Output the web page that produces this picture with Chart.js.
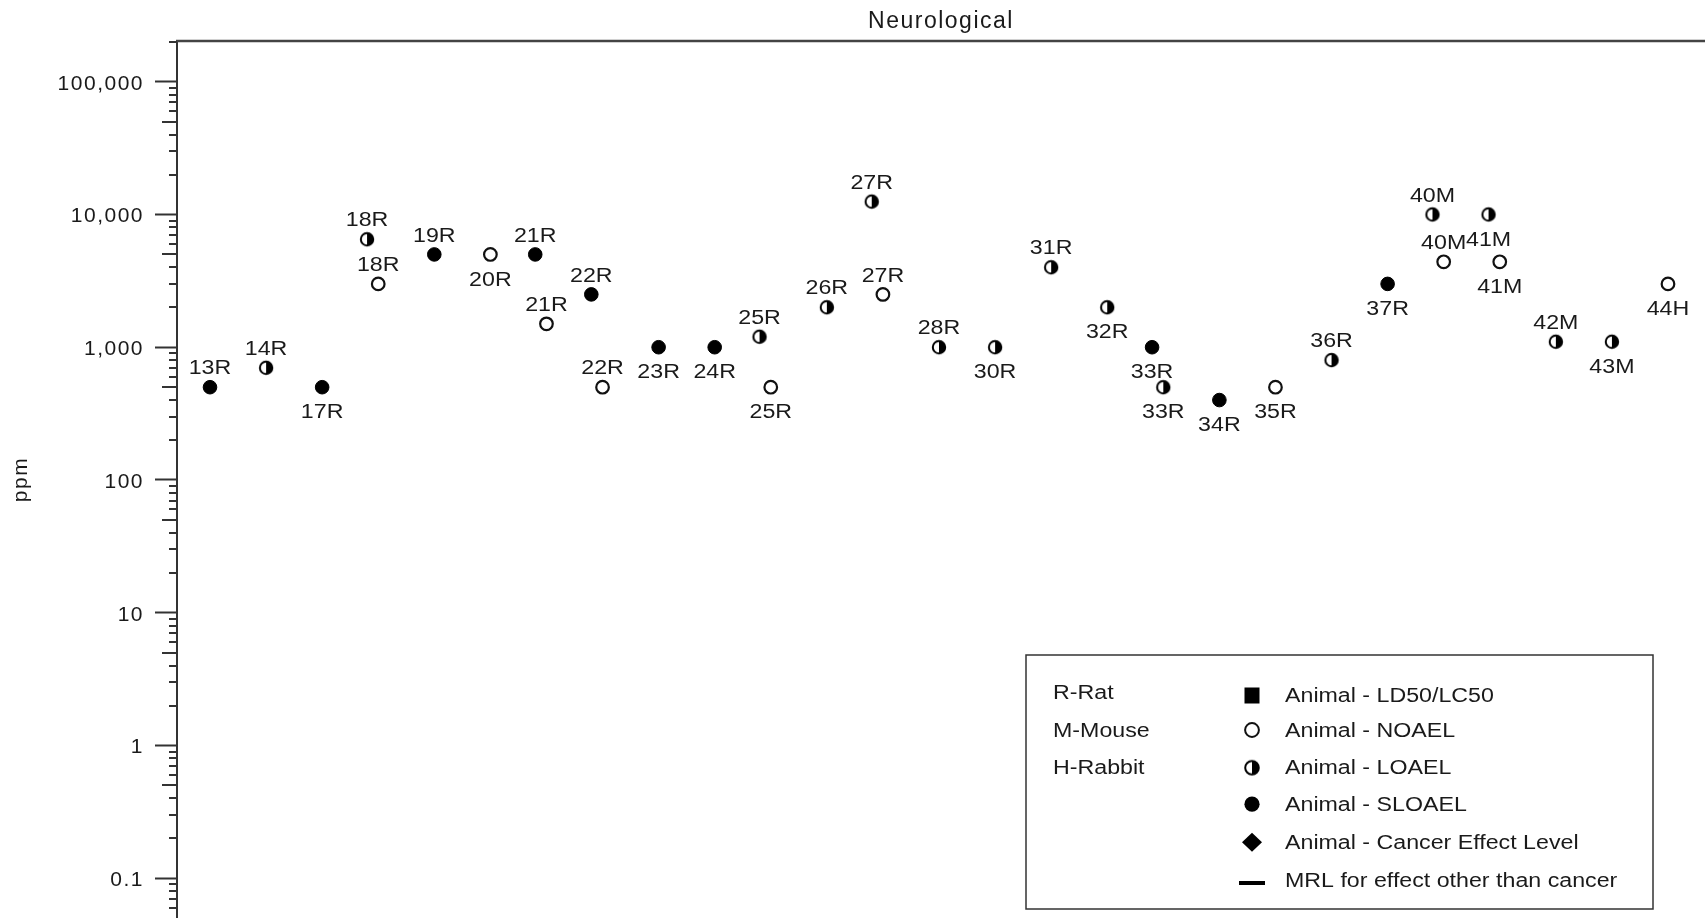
<!DOCTYPE html>
<html>
<head>
<meta charset="utf-8">
<script src="https://cdn.jsdelivr.net/npm/chart.js@4.4.1/dist/chart.umd.min.js"></script>
<style>
html, body { margin: 0; padding: 0; background: #ffffff; overflow: hidden; }
#wrap { width: 1705px; height: 918px; position: relative; }
</style>
</head>
<body>
<div id="wrap"><canvas id="c" width="1705" height="918"></canvas></div>
<script>
// ---------------- DATA ----------------
const chartTitle = 'Neurological';
const yAxisTitle = 'ppm';

const studyLabels = ['13R','14R','17R','18R','18R','19R','20R','21R','21R','22R','22R','23R','24R','25R','25R','26R','27R','27R','28R','30R','31R','32R','33R','33R','34R','35R','36R','37R','40M','40M','41M','41M','42M','43M','44H'];
const ppmValues   = [500, 700, 500, 6500, 3000, 5000, 5000, 5000, 1500, 2500, 500, 1000, 1000, 1200, 500, 2000, 12500, 2500, 1000, 1000, 4000, 2000, 1000, 500, 400, 500, 800, 3000, 10000, 4400, 10000, 4400, 1100, 1100, 3000];
const effectTypes = ['SLOAEL','LOAEL','SLOAEL','LOAEL','NOAEL','SLOAEL','NOAEL','SLOAEL','NOAEL','SLOAEL','NOAEL','SLOAEL','SLOAEL','LOAEL','NOAEL','LOAEL','LOAEL','NOAEL','LOAEL','LOAEL','LOAEL','LOAEL','SLOAEL','LOAEL','SLOAEL','NOAEL','LOAEL','SLOAEL','LOAEL','NOAEL','LOAEL','NOAEL','LOAEL','LOAEL','NOAEL'];
// label placement relative to marker (style, not data)
const labelSides  = ['above','above','below','above','above','above','below','above','above','above','above','below','below','above','below','above','above','above','above','below','above','below','below','below','below','below','above','below','above','above','below','below','above','below','below'];

const yTickValues = [0.1, 1, 10, 100, 1000, 10000, 100000];
const yTickLabels = ['0.1', '1', '10', '100', '1,000', '10,000', '100,000'];

const speciesKey = ['R-Rat', 'M-Mouse', 'H-Rabbit'];
const legendEntries = ['Animal - LD50/LC50', 'Animal - NOAEL', 'Animal - LOAEL', 'Animal - SLOAEL', 'Animal - Cancer Effect Level', 'MRL for effect other than cancer'];
const legendSymbols = ['square', 'NOAEL', 'LOAEL', 'SLOAEL', 'diamond', 'dash'];

// ---------------- BUILD ----------------
const FONT = '"Liberation Sans", Arial, Helvetica, sans-serif';
const TEXT_COLOR = '#1a1a1a';
const AXIS_COLOR = '#333333';

// column index per study, dodge first of a pair to the left
const studyOrder = [];
studyLabels.forEach(s => { if (!studyOrder.includes(s)) studyOrder.push(s); });
const studyCount = {};
studyLabels.forEach(s => { studyCount[s] = (studyCount[s] || 0) + 1; });
const seen = {};
const points = studyLabels.map((s, i) => {
  const pos = seen[s] || 0; seen[s] = pos + 1;
  const dodge = (studyCount[s] > 1 && pos === 0) ? -0.2 : 0;
  return { x: studyOrder.indexOf(s) + dodge, y: ppmValues[i], label: s, side: labelSides[i], type: effectTypes[i] };
});

function halfCircleImage(r, lw) {
  const s = 20;
  const c = document.createElement('canvas');
  c.width = s; c.height = s;
  const g = c.getContext('2d');
  const cx = s / 2, cy = s / 2;
  g.beginPath(); g.arc(cx, cy, r, 0, Math.PI * 2); g.fillStyle = '#ffffff'; g.fill();
  g.beginPath(); g.arc(cx, cy, r, -Math.PI / 2, Math.PI / 2); g.closePath(); g.fillStyle = '#000000'; g.fill();
  g.beginPath(); g.arc(cx, cy, r, 0, Math.PI * 2); g.lineWidth = lw; g.strokeStyle = '#000000'; g.stroke();
  return c;
}
const halfImg = halfCircleImage(6.2, 2);
const halfImgLegend = halfCircleImage(6.8, 2);

const styles = {
  NOAEL:  { pointStyle: 'circle', pointRadius: 6.3, pointBorderWidth: 2.2, pointBorderColor: '#111111', pointBackgroundColor: '#ffffff' },
  LOAEL:  { pointStyle: halfImg, pointRadius: 7, pointBorderWidth: 0, pointBorderColor: '#000000', pointBackgroundColor: '#000000' },
  SLOAEL: { pointStyle: 'circle', pointRadius: 6.8, pointBorderWidth: 1, pointBorderColor: '#000000', pointBackgroundColor: '#000000' }
};

const datasets = ['NOAEL', 'LOAEL', 'SLOAEL'].map(t => Object.assign({
  label: 'Animal - ' + t,
  data: points.filter(p => p.type === t),
  showLine: false,
  clip: false
}, styles[t]));

function drawStretched(ctx, text, x, y, sx, align) {
  ctx.save();
  ctx.translate(x, y);
  ctx.scale(sx, 1);
  ctx.textAlign = align;
  ctx.fillText(text, 0, 0);
  ctx.restore();
}

const spacingPlugin = {
  id: 'spacing',
  beforeDraw(chart) { try { chart.ctx.letterSpacing = '1.5px'; } catch (e) {} }
};

const framePlugin = {
  id: 'frame',
  beforeDatasetsDraw(chart) {
    const ctx = chart.ctx, ca = chart.chartArea, ys = chart.scales.y;
    ctx.save();
    // top border
    ctx.strokeStyle = '#444444'; ctx.lineWidth = 2.5;
    ctx.beginPath(); ctx.moveTo(ca.left - 1, ca.top); ctx.lineTo(ca.right, ca.top); ctx.stroke();
    // minor log ticks
    ctx.strokeStyle = AXIS_COLOR; ctx.lineWidth = 2;
    for (let e = -3; e <= 5; e++) {
      for (let m = 2; m <= 9; m++) {
        const v = m * Math.pow(10, e);
        if (v < ys.min || v > ys.max) continue;
        const py = Math.round(ys.getPixelForValue(v));
        const len = m === 5 ? 15 : 8;
        ctx.beginPath(); ctx.moveTo(ca.left - len, py); ctx.lineTo(ca.left, py); ctx.stroke();
      }
    }
    ctx.restore();
  }
};

const pointLabelPlugin = {
  id: 'pointLabels',
  afterDatasetsDraw(chart) {
    const ctx = chart.ctx;
    ctx.save();
    try { ctx.letterSpacing = '0px'; } catch (e) {}
    ctx.font = '20px ' + FONT;
    ctx.fillStyle = TEXT_COLOR;
    ctx.textBaseline = 'alphabetic';
    chart.data.datasets.forEach((ds, i) => {
      const meta = chart.getDatasetMeta(i);
      meta.data.forEach((el, j) => {
        const d = ds.data[j];
        const capHalf = 0.716 * 20 / 2;
        const yb = d.side === 'above' ? el.y - 20 + capHalf : el.y + 24 + capHalf;
        drawStretched(ctx, d.label, el.x, yb, 1.16, 'center');
      });
    });
    ctx.restore();
  }
};

const legendPlugin = {
  id: 'boxLegend',
  afterDraw(chart) {
    const ctx = chart.ctx;
    const bx = 1026, by = 655, bw = 627, bh = 254;
    ctx.save();
    try { ctx.letterSpacing = '0px'; } catch (e) {}
    ctx.fillStyle = '#ffffff';
    ctx.fillRect(bx, by, bw, bh);
    ctx.strokeStyle = '#333333'; ctx.lineWidth = 1.5;
    ctx.strokeRect(bx, by, bw, bh);
    ctx.font = '20px ' + FONT;
    ctx.fillStyle = TEXT_COLOR;
    ctx.textBaseline = 'alphabetic';
    const capHalf = 0.716 * 20 / 2;
    const leftRows = [691.7, 729.5, 767.2];
    speciesKey.forEach((t, i) => drawStretched(ctx, t, 1053, leftRows[i] + capHalf, 1.16, 'left'));
    const rows = [695, 729.5, 767.2, 803.7, 841.7, 880];
    const sx = 1252;
    legendEntries.forEach((t, i) => {
      ctx.fillStyle = TEXT_COLOR;
      drawStretched(ctx, t, 1285, rows[i] + capHalf, 1.16, 'left');
      const sym = legendSymbols[i];
      const cy = (sym === 'dash') ? rows[i] + 3 : rows[i] + 0.5;
      ctx.fillStyle = '#000000'; ctx.strokeStyle = '#000000';
      if (sym === 'square') {
        ctx.fillRect(sx - 7.5, cy - 8, 15, 16);
      } else if (sym === 'NOAEL') {
        ctx.beginPath(); ctx.arc(sx, cy, 6.9, 0, Math.PI * 2); ctx.fillStyle = '#fff'; ctx.fill();
        ctx.lineWidth = 2; ctx.strokeStyle = '#111'; ctx.stroke();
      } else if (sym === 'LOAEL') {
        ctx.drawImage(halfImgLegend, sx - halfImgLegend.width / 2, cy - halfImgLegend.height / 2);
      } else if (sym === 'SLOAEL') {
        ctx.beginPath(); ctx.arc(sx, cy, 7.6, 0, Math.PI * 2); ctx.fill();
      } else if (sym === 'diamond') {
        ctx.beginPath(); ctx.moveTo(sx, cy - 9.5); ctx.lineTo(sx + 10, cy); ctx.lineTo(sx, cy + 9.5); ctx.lineTo(sx - 10, cy); ctx.closePath(); ctx.fill();
      } else if (sym === 'dash') {
        ctx.fillRect(sx - 13, cy - 2, 26, 4);
      }
    });
    ctx.restore();
  }
};

Chart.defaults.font.family = FONT;
Chart.defaults.color = TEXT_COLOR;

new Chart(document.getElementById('c'), {
  type: 'scatter',
  data: { datasets },
  options: {
    responsive: false,
    devicePixelRatio: 1,
    animation: false,
    events: [],
    layout: { autoPadding: false, padding: { left: 0, right: 0, top: 0, bottom: 0 } },
    plugins: {
      legend: { display: false },
      tooltip: { enabled: false },
      title: {
        display: true,
        text: chartTitle,
        fullSize: false,
        color: TEXT_COLOR,
        font: { size: 23, weight: 'normal', family: FONT },
        padding: { top: 8, bottom: 5.4 }
      }
    },
    scales: {
      x: {
        type: 'linear',
        min: -0.5885,
        max: 26.66,
        bounds: 'data',
        display: false
      },
      y: {
        type: 'logarithmic',
        position: 'left',
        min: 0.0502,
        max: 202600,
        bounds: 'data',
        afterFit(scale) { scale.width = 177; scale.paddingTop = 0; scale.paddingBottom = 0; },
        afterBuildTicks(scale) { scale.ticks = yTickValues.map(v => ({ value: v })); },
        grid: { drawOnChartArea: false, drawTicks: true, tickLength: 22, tickColor: AXIS_COLOR, tickWidth: 2 },
        border: { display: true, color: AXIS_COLOR, width: 2 },
        ticks: {
          autoSkip: false,
          padding: 11,
          labelOffset: 2,
          color: TEXT_COLOR,
          font: { size: 21, family: FONT },
          callback: (v, i) => yTickLabels[i]
        },
        title: {
          display: true,
          text: yAxisTitle,
          color: TEXT_COLOR,
          font: { size: 21, family: FONT },
          padding: { top: 9, bottom: 0 }
        }
      }
    }
  },
  plugins: [spacingPlugin, framePlugin, pointLabelPlugin, legendPlugin]
});
</script>
</body>
</html>
